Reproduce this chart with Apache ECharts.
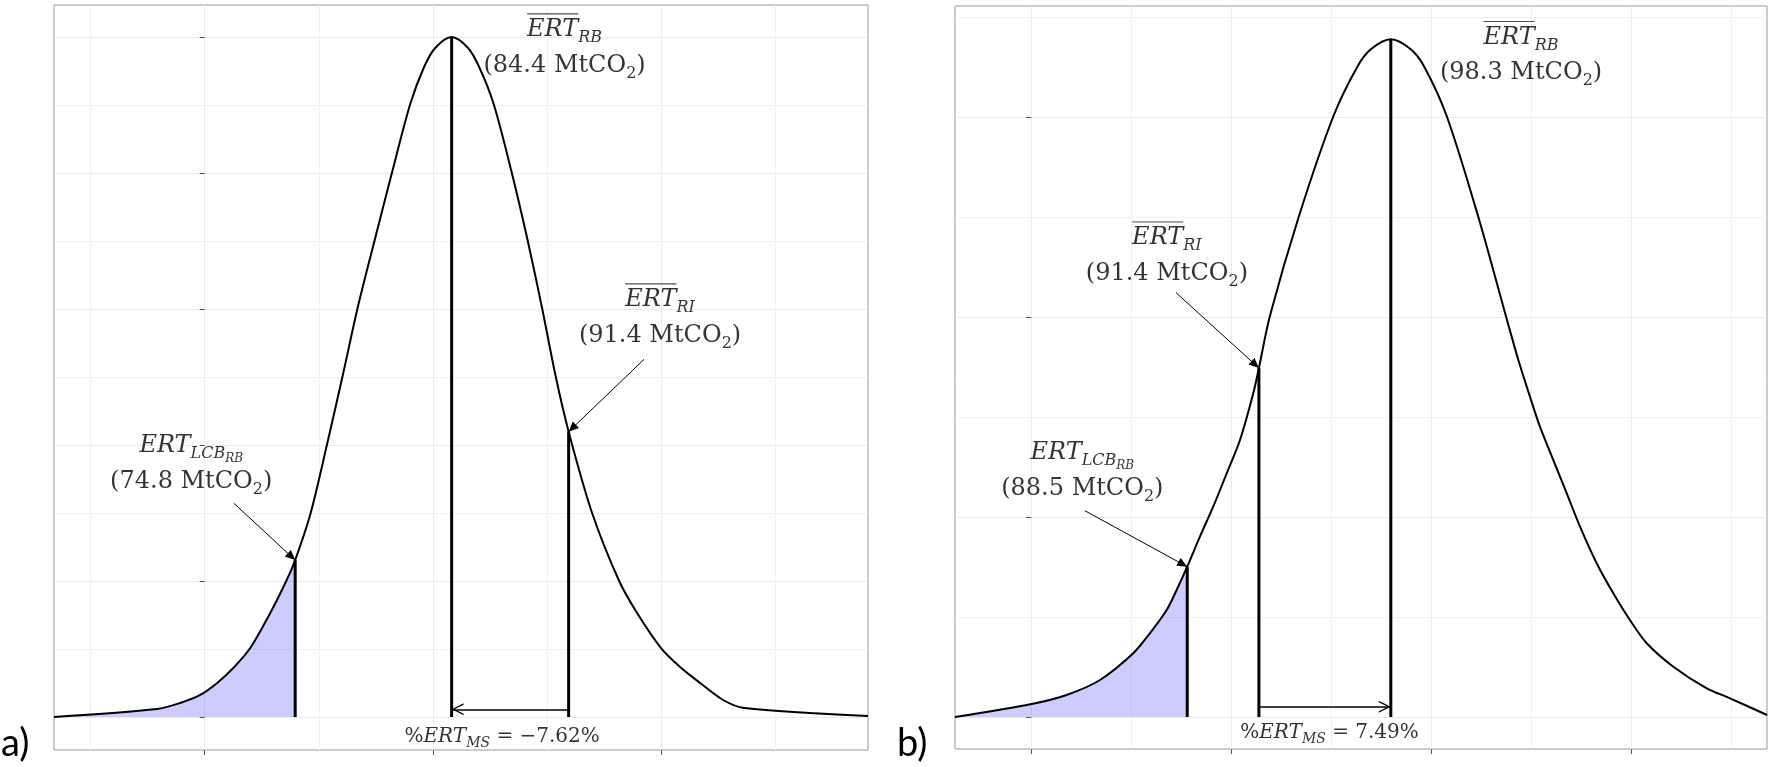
<!DOCTYPE html>
<html><head><meta charset="utf-8">
<script src="https://cdn.jsdelivr.net/npm/echarts@6/dist/echarts.min.js"></script>
<style>html,body{margin:0;padding:0;background:#fff}#c{width:1775px;height:767px}</style>
</head><body><div id="c"></div>
<script>
// ---------- Panel a data ----------
const aCurveX = [60.0, 66.33, 67.74, 68.97, 70.01, 71.06, 72.04, 73.27, 74.25, 74.8, 75.75, 76.76, 77.71, 78.63, 79.68, 80.75, 81.86, 82.71, 83.39, 84.4, 85.41, 86.09, 86.98, 88.08, 89.06, 89.95, 90.78, 91.58, 93.02, 94.68, 95.78, 97.25, 98.42, 99.65, 101.06, 102.35, 109.95];
const aCurveY = [0, 0.000588, 0.00103, 0.00162, 0.0025, 0.00368, 0.00507, 0.00765, 0.0100, 0.01154, 0.0150, 0.02007, 0.02507, 0.03007, 0.03507, 0.04007, 0.04507, 0.04779, 0.04919, 0.0500, 0.04919, 0.04779, 0.04507, 0.04007, 0.03507, 0.03007, 0.02507, 0.02098, 0.0150, 0.0100, 0.00765, 0.00507, 0.00368, 0.0025, 0.00125, 0.00066, 0.00007];
const aMarkerX = [74.8, 84.4, 91.58];         // LCB, RB, RI
const aMarkerTop = [0.01154, 0.0500, 0.02098];
const aMarkerValue = ['74.8', '84.4', '91.4'];
const aLabelPos = [[68.42, 0.01842], [91.33, 0.04908], [97.19, 0.02923]];
const aArrowFrom = [[71.04, 0.01571], null, [96.21, 0.0263]];
const aPctPos = [87.5, -0.00145];
const aPctValue = '−7.62%';
const aMsArrowY = 0.000566;
const aXRange = [60.0, 109.95];
const aYRange = [-0.002426, 0.05235];
const aXTicks = [69.25, 83.25, 97.25];
const aYTicks = [0, 0.01, 0.02, 0.03, 0.04, 0.05];

// ---------- Panel b data ----------
const bCurveX = [77.32, 81.01, 82.69, 84.30, 85.90, 86.70, 87.51, 87.99, 88.5, 89.11, 89.75, 90.40, 91.04, 91.68, 91.95, 92.48, 93.88, 95.54, 96.69, 97.34, 98.3, 99.26, 99.91, 100.99, 102.50, 103.84, 104.44, 105.0, 105.48, 106.12, 106.77, 107.41, 108.21, 109.01, 109.81, 110.62, 111.90, 113.51, 114.63, 116.41];
const bCurveY = [0, 0.0013, 0.0022, 0.0037, 0.00637, 0.00837, 0.0107, 0.0127, 0.01503, 0.01803, 0.02103, 0.02437, 0.0277, 0.03237, 0.0349, 0.0401, 0.0501, 0.0601, 0.06503, 0.06677, 0.06777, 0.06677, 0.06503, 0.0601, 0.0501, 0.0401, 0.0357, 0.03203, 0.02903, 0.0257, 0.02237, 0.01903, 0.01537, 0.01237, 0.0097, 0.00737, 0.00503, 0.00287, 0.00187, 0.0002];
const bMarkerX = [88.5, 98.3, 91.95];         // LCB, RB, RI
const bMarkerTop = [0.01503, 0.06777, 0.0349];
const bMarkerValue = ['88.5', '98.3', '91.4'];
const bLabelPos = [[83.45, 0.02435], [104.57, 0.0660], [87.52, 0.04595]];
const bArrowFrom = [[83.57, 0.02063], null, [87.96, 0.04243]];
const bPctPos = [95.35, -0.0016];
const bPctValue = '7.49%';
const bMsArrowY = 0.00103;
const bXRange = [77.32, 116.41];
const bYRange = [-0.0032, 0.0711];
const bXTicks = [80.99, 90.62, 100.25, 109.88];
const bYTicks = [0, 0.02, 0.04, 0.06];

const markerNames = ['LCB', 'RB', 'RI'];

// ---------- styling helpers ----------
const SERIF = "'DejaVu Serif', serif";
const measureCtx = document.createElement('canvas').getContext('2d');
function textWidth(txt, font) { measureCtx.font = font; return measureCtx.measureText(txt).width; }
const W_ERT = textWidth('ERT', 'italic 24px ' + SERIF);

const RICH = {
  e:  {fontFamily: SERIF, fontStyle: 'italic', fontSize: 24, lineHeight: 30, color: '#000'},
  s:  {fontFamily: SERIF, fontStyle: 'italic', fontSize: 16, lineHeight: 14, padding: [16, 0, 0, 0], color: '#000'},
  ss: {fontFamily: SERIF, fontStyle: 'italic', fontSize: 12, lineHeight: 4, padding: [26, 0, 0, 0], color: '#000'},
  n:  {fontFamily: SERIF, fontSize: 24, lineHeight: 41, color: '#000'},
  n2: {fontFamily: SERIF, fontSize: 16, lineHeight: 20, padding: [16, 0, 0, 0], color: '#000'},
  ol: {fontSize: 1, width: W_ERT, height: 1.2, lineHeight: 2, backgroundColor: '#222'},
  pn: {fontFamily: SERIF, fontSize: 20, lineHeight: 30, color: '#000'},
  pe: {fontFamily: SERIF, fontStyle: 'italic', fontSize: 20, lineHeight: 30, color: '#000'},
  ps: {fontFamily: SERIF, fontStyle: 'italic', fontSize: 14, lineHeight: 16, padding: [13, 0, 0, 0], color: '#000'}
};
['RB', 'RI'].forEach(k => {
  RICH['sp' + k] = {fontSize: 1, width: textWidth(k, 'italic 16px ' + SERIF), height: 1.2, lineHeight: 2};
});
const CHEVRON = 'path://M5,0 L5.01,0 Z M5,10 L10,20 L8.7,20 L5,12.4 L1.3,20 L0,20 Z';
const TRI = 'path://M5,0 L5.01,0 Z M5,10 L8.5,20 L1.5,20 Z';

function labelText(i, value) {
  const name = markerNames[i];
  const head = i === 0 ? '{e|ERT}{s|LCB}{ss|RB}' : '{ol| }{sp' + name + '| }\n{e|ERT}{s|' + name + '}';
  return head + '\n{n|(' + value + ' MtCO}{n2|2}{n|)}';
}

const TICK = {show: true, length: 5, lineStyle: {color: '#555', width: 1}};
const SPLIT = {show: true, lineStyle: {color: '#ebebeb', width: 1}};
const MINOR = {show: true, lineStyle: {color: '#f1f1f1', width: 1}};

function tickAxis(gridIndex, ticks, range) {
  const step = ticks[1] - ticks[0];
  return {
    type: 'value', gridIndex: gridIndex, position: 'bottom',
    min: (range[0] - ticks[0]) / step, max: (range[1] - ticks[0]) / step,
    minInterval: 1, maxInterval: 1,
    axisLine: {show: false},
    axisTick: Object.assign({customValues: ticks.map((t, i) => i)}, TICK),
    axisLabel: {show: false},
    splitLine: SPLIT,
    minorTick: {show: false, splitNumber: 2},
    minorSplitLine: MINOR
  };
}
function dataXAxis(gridIndex, range) {
  return {type: 'value', gridIndex: gridIndex, min: range[0], max: range[1], show: false};
}
function yAxisOf(gridIndex, range, ticks) {
  const step = ticks[1] - ticks[0];
  return {
    type: 'value', gridIndex: gridIndex, min: range[0], max: range[1],
    minInterval: step, maxInterval: step,
    axisLine: {show: false},
    axisTick: Object.assign({customValues: ticks}, TICK),
    axisLabel: {show: false},
    splitLine: SPLIT,
    minorTick: {show: false, splitNumber: 2},
    minorSplitLine: MINOR
  };
}

function panelSeries(p, xi, yi) {
  const base = {xAxisIndex: xi, yAxisIndex: yi, silent: true, animation: false};
  const curve = p.curveX.map((x, i) => [x, p.curveY[i]]);
  const shaded = curve.filter(d => d[0] <= p.markerX[0] + 1e-9);
  const out = [];
  out.push(Object.assign({}, base, {type: 'line', data: shaded, smooth: 0.3, symbol: 'none',
    lineStyle: {width: 0}, areaStyle: {color: 'rgba(0,0,255,0.2)', opacity: 1}, z: 2}));
  out.push(Object.assign({}, base, {type: 'line', data: curve, smooth: 0.3, symbol: 'none',
    lineStyle: {color: '#000', width: 2}, z: 3}));
  p.markerX.forEach((x, i) => {
    out.push(Object.assign({}, base, {type: 'line', data: [[x, 0], [x, p.markerTop[i]]], symbol: 'none',
      lineStyle: {color: '#000', width: 3}, z: 4}));
  });
  // %ERT_MS arrow (from RI to RB)
  out.push(Object.assign({}, base, {type: 'scatter', data: [], z: 5,
    markLine: {silent: true, animation: false, symbol: ['none', CHEVRON], symbolSize: [12, 24],
      lineStyle: {color: '#000', width: 1.5, type: 'solid'}, label: {show: false},
      data: [[{coord: [p.markerX[2], p.msY]}, {coord: [p.markerX[1], p.msY]}]]}}));
  // label arrows
  const arrows = [];
  p.arrowFrom.forEach((f, i) => { if (f) arrows.push([{coord: f}, {coord: [p.markerX[i], p.markerTop[i]]}]); });
  out.push(Object.assign({}, base, {type: 'scatter', data: [], z: 5,
    markLine: {silent: true, animation: false, symbol: ['none', TRI], symbolSize: [9, 20],
      lineStyle: {color: '#000', width: 1, type: 'solid'}, label: {show: false}, data: arrows}}));
  // text labels
  const labels = p.labelPos.map((pos, i) => ({value: pos, label: {formatter: labelText(i, p.markerValue[i])}}));
  labels.push({value: p.pctPos, label: {formatter: '{pn|%}{pe|ERT}{ps|MS}{pn| = ' + p.pctValue + '}'}});
  out.push(Object.assign({}, base, {type: 'scatter', data: labels, symbolSize: 0, z: 6,
    itemStyle: {color: 'rgba(0,0,0,0)'},
    label: {show: true, position: 'inside', align: 'center', verticalAlign: 'middle', rich: RICH, color: '#000'}}));
  return out;
}

const A = {curveX: aCurveX, curveY: aCurveY, markerX: aMarkerX, markerTop: aMarkerTop, markerValue: aMarkerValue,
  labelPos: aLabelPos, arrowFrom: aArrowFrom, pctPos: aPctPos, pctValue: aPctValue, msY: aMsArrowY};
const B = {curveX: bCurveX, curveY: bCurveY, markerX: bMarkerX, markerTop: bMarkerTop, markerValue: bMarkerValue,
  labelPos: bLabelPos, arrowFrom: bArrowFrom, pctPos: bPctPos, pctValue: bPctValue, msY: bMsArrowY};

const chart = echarts.init(document.getElementById('c'), null, {renderer: 'canvas'});
chart.setOption({
  animation: false,
  backgroundColor: '#fff',
  title: [
    {text: 'a)', left: 1, top: 725, padding: 0, textStyle: {fontFamily: 'Lato', fontSize: 38, fontWeight: 'normal', color: '#000'}},
    {text: 'b)', left: 897, top: 725, padding: 0, textStyle: {fontFamily: 'Lato', fontSize: 38, fontWeight: 'normal', color: '#000'}}
  ],
  grid: [
    {left: 54, top: 5, width: 814, height: 745, show: true, borderColor: '#999', borderWidth: 1, backgroundColor: '#fff'},
    {left: 955, top: 6, width: 812, height: 743, show: true, borderColor: '#999', borderWidth: 1, backgroundColor: '#fff'}
  ],
  xAxis: [dataXAxis(0, aXRange), tickAxis(0, aXTicks, aXRange), dataXAxis(1, bXRange), tickAxis(1, bXTicks, bXRange)],
  yAxis: [yAxisOf(0, aYRange, aYTicks), yAxisOf(1, bYRange, bYTicks)],
  series: panelSeries(A, 0, 0).concat(panelSeries(B, 2, 1))
});
</script>
</body></html>
